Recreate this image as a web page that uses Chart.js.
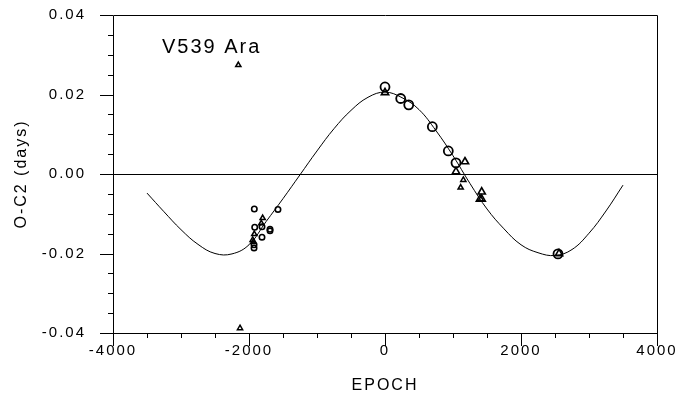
<!DOCTYPE html>
<html><head><meta charset="utf-8">
<script src="https://cdn.jsdelivr.net/npm/chart.js@4.4.1/dist/chart.umd.min.js"></script>
<style>html,body{margin:0;padding:0;background:#fff}canvas{display:block}</style>
</head><body>
<canvas id="c" width="693" height="410"></canvas>
<script>
// ---- data ----
const starName = 'V539 Ara';
const xTitle = 'EPOCH';
const yTitle = 'O-C2 (days)';

const curveEpoch = [-3500,-3250,-3000,-2750,-2500,-2250,-2000,-1750,-1500,-1250,-1000,-750,-500,-250,0,250,500,750,1000,1250,1500,1750,2000,2250,2500,2750,3000,3250,3500];
const curveOC    = [-0.0048,-0.0095,-0.0140,-0.0177,-0.0200,-0.0201,-0.0178,-0.0120,-0.0062,-0.0002,0.0058,0.0114,0.0160,0.0193,0.0206,0.0192,0.0162,0.0109,0.0046,-0.0024,-0.0088,-0.0138,-0.0178,-0.0198,-0.0205,-0.0190,-0.0149,-0.0093,-0.0028];

const bigCircleEpoch = [0,231,349,696,931,1044,2544];
const bigCircleOC    = [0.0219,0.0190,0.0174,0.0119,0.0058,0.0028,-0.0201];

const smallCircleEpoch = [-1922,-1574,-1916,-1809,-1691,-1691,-1809,-1926,-1926];
const smallCircleOC    = [-0.0088,-0.0089,-0.0134,-0.0133,-0.0139,-0.0143,-0.0159,-0.0186,-0.0178];

const bigTriEpoch = [0,1176,1044,1422,1397,1422,2559];
const bigTriOC    = [0.0205,0.0031,0.0006,-0.0045,-0.0063,-0.0063,-0.0200];

const smallTriEpoch = [-2157,-2132,-1799,-1819,-1922,-1946,-1937,1152,1113];
const smallTriOC    = [0.0274,-0.0388,-0.0111,-0.0124,-0.0151,-0.0166,-0.0171,-0.0015,-0.0034];

const xMajorTicks = [-4000,-2000,0,2000,4000];
const xMinorTicks = [-3500,-3000,-2500,-1500,-1000,-500,500,1000,1500,2500,3000,3500];
const yMajorTicks = [-0.04,-0.02,0,0.02,0.04];
const yMinorTicks = [-0.035,-0.03,-0.025,-0.015,-0.01,-0.005,0.005,0.01,0.015,0.025,0.03,0.035];

const pts = (xs, ys) => xs.map((x, i) => ({x: x, y: ys[i]}));

const FONT = '"Liberation Sans", Arial, sans-serif';
const SPACING = '2px';

const framePlugin = {
  id: 'frame',
  beforeUpdate(chart) { chart.ctx.letterSpacing = SPACING; },
  beforeDraw(chart) { chart.ctx.letterSpacing = SPACING; },
  beforeDatasetsDraw(chart) {
    const ctx = chart.ctx, a = chart.chartArea;
    const xs = chart.scales.x, ys = chart.scales.y;
    ctx.save();
    ctx.strokeStyle = '#000';
    ctx.lineWidth = 1;
    ctx.beginPath();
    ctx.rect(Math.round(a.left) + 0.5, Math.round(a.top) + 0.5, Math.round(a.right - a.left), Math.round(a.bottom - a.top));
    // zero line
    const y0 = Math.round(ys.getPixelForValue(0)) + 0.5;
    ctx.moveTo(a.left, y0); ctx.lineTo(a.right, y0);
    // y ticks
    yMajorTicks.forEach(v => { const y = Math.round(ys.getPixelForValue(v)) + 0.5; ctx.moveTo(a.left - 13, y); ctx.lineTo(a.left, y); });
    yMinorTicks.forEach(v => { const y = Math.round(ys.getPixelForValue(v)) + 0.5; ctx.moveTo(a.left - 5, y); ctx.lineTo(a.left, y); });
    // x ticks
    xMajorTicks.forEach(v => { const x = Math.round(xs.getPixelForValue(v)) + 0.5; ctx.moveTo(x, a.bottom); ctx.lineTo(x, a.bottom + 13); });
    xMinorTicks.forEach(v => { const x = Math.round(xs.getPixelForValue(v)) + 0.5; ctx.moveTo(x, a.bottom); ctx.lineTo(x, a.bottom + 5); });
    ctx.stroke();
    // star name
    ctx.fillStyle = '#000';
    ctx.font = '20px ' + FONT;
    ctx.letterSpacing = '2px';
    ctx.textBaseline = 'middle';
    ctx.textAlign = 'left';
    ctx.fillText(starName, 162, 47);
    ctx.restore();
  }
};

new Chart(document.getElementById('c'), {
  type: 'scatter',
  data: {
    datasets: [
      { label: 'big circles', data: pts(bigCircleEpoch, bigCircleOC), pointStyle: 'circle', pointRadius: 4.5, borderWidth: 1.8, borderColor: '#000', backgroundColor: 'rgba(255,255,255,0)' },
      { label: 'small circles', data: pts(smallCircleEpoch, smallCircleOC), pointStyle: 'circle', pointRadius: 2.7, borderWidth: 1.6, borderColor: '#000', backgroundColor: 'rgba(255,255,255,0)' },
      { label: 'big triangles', data: pts(bigTriEpoch, bigTriOC), pointStyle: 'triangle', pointRadius: 4.2, borderWidth: 1.6, borderColor: '#000', backgroundColor: 'rgba(255,255,255,0)' },
      { label: 'small triangles', data: pts(smallTriEpoch, smallTriOC), pointStyle: 'triangle', pointRadius: 3, borderWidth: 1.5, borderColor: '#000', backgroundColor: 'rgba(255,255,255,0)' },
      { label: 'fit', data: pts(curveEpoch, curveOC), showLine: true, pointRadius: 0, borderWidth: 1, borderColor: '#000', tension: 0.4, fill: false }
    ]
  },
  options: {
    responsive: false,
    animation: false,
    events: [],
    layout: { padding: { left: 0, right: 36, top: 15, bottom: 0 } },
    plugins: { legend: { display: false }, tooltip: { enabled: false } },
    scales: {
      x: {
        type: 'linear', position: 'bottom', min: -4000, max: 4000,
        afterBuildTicks: s => { s.ticks = xMajorTicks.map(v => ({ value: v })); },
        afterFit: s => { s.height = 77; s.paddingLeft = 0; s.paddingRight = 0; },
        grid: { display: false, drawTicks: false },
        border: { display: false },
        ticks: { color: '#000', font: { family: FONT, size: 15 }, padding: 9, maxRotation: 0, autoSkip: false, callback: v => String(v) },
        title: { display: true, text: xTitle, color: '#000', font: { family: FONT, size: 16 }, padding: { top: 0, bottom: 15 } }
      },
      y: {
        type: 'linear', position: 'left', min: -0.04, max: 0.04,
        afterBuildTicks: s => { s.ticks = yMajorTicks.map(v => ({ value: v })); },
        afterFit: s => { s.width = 113; s.paddingTop = 0; s.paddingBottom = 0; },
        grid: { display: false, drawTicks: false },
        border: { display: false },
        ticks: { color: '#000', font: { family: FONT, size: 15 }, padding: 27, autoSkip: false, callback: v => v.toFixed(2) },
        title: { display: true, text: yTitle, color: '#000', font: { family: FONT, size: 16 }, padding: { top: 12, bottom: 0 } }
      }
    }
  },
  plugins: [framePlugin]
});
</script>
</body></html>
